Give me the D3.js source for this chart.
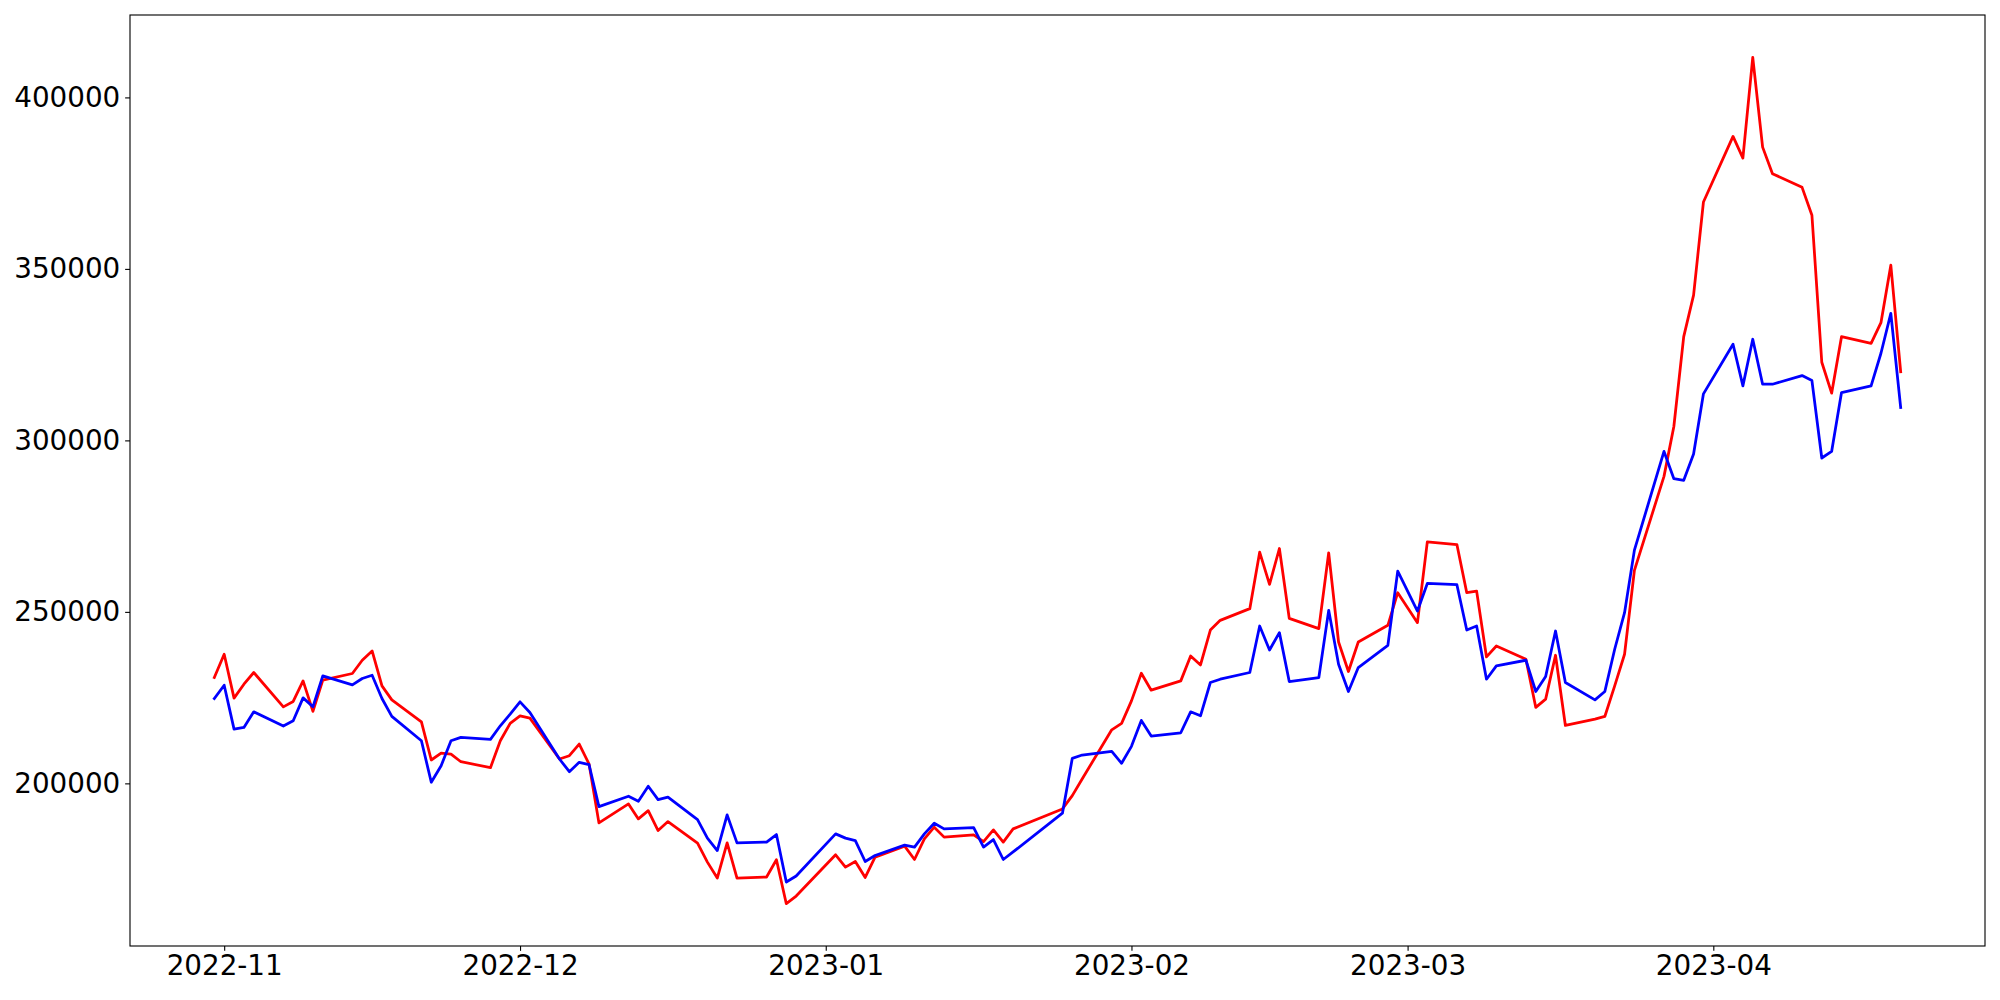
<!DOCTYPE html>
<html>
<head>
<meta charset="utf-8">
<script src="https://cdn.jsdelivr.net/npm/d3@7"></script>
<style>
  html, body { margin: 0; padding: 0; background: #fff; }
  svg { display: block; }
  text { font-family: "DejaVu Sans", sans-serif; }
</style>
</head>
<body>
<svg id="chart" width="2000" height="1000"></svg>
<script>
// ---- data ----
const dates = [
  "2022-10-31","2022-11-01","2022-11-02","2022-11-03","2022-11-04",
  "2022-11-07","2022-11-08","2022-11-09","2022-11-10","2022-11-11",
  "2022-11-14","2022-11-15","2022-11-16","2022-11-17","2022-11-18",
  "2022-11-21","2022-11-22","2022-11-23","2022-11-24","2022-11-25",
  "2022-11-28","2022-11-29","2022-11-30","2022-12-01","2022-12-02",
  "2022-12-05","2022-12-06","2022-12-07","2022-12-08","2022-12-09",
  "2022-12-12","2022-12-13","2022-12-14","2022-12-15","2022-12-16",
  "2022-12-19","2022-12-20","2022-12-21","2022-12-22","2022-12-23",
  "2022-12-26","2022-12-27","2022-12-28","2022-12-29",
  "2023-01-02","2023-01-03","2023-01-04","2023-01-05","2023-01-06",
  "2023-01-09","2023-01-10","2023-01-11","2023-01-12","2023-01-13",
  "2023-01-16","2023-01-17","2023-01-18","2023-01-19","2023-01-20",
  "2023-01-25","2023-01-26","2023-01-27",
  "2023-01-30","2023-01-31","2023-02-01","2023-02-02","2023-02-03",
  "2023-02-06","2023-02-07","2023-02-08","2023-02-09","2023-02-10",
  "2023-02-13","2023-02-14","2023-02-15","2023-02-16","2023-02-17",
  "2023-02-20","2023-02-21","2023-02-22","2023-02-23","2023-02-24",
  "2023-02-27","2023-02-28","2023-03-02","2023-03-03",
  "2023-03-06","2023-03-07","2023-03-08","2023-03-09","2023-03-10",
  "2023-03-13","2023-03-14","2023-03-15","2023-03-16","2023-03-17",
  "2023-03-20","2023-03-21","2023-03-22","2023-03-23","2023-03-24",
  "2023-03-27","2023-03-28","2023-03-29","2023-03-30","2023-03-31",
  "2023-04-03","2023-04-04","2023-04-05","2023-04-06","2023-04-07",
  "2023-04-10","2023-04-11","2023-04-12","2023-04-13","2023-04-14",
  "2023-04-17","2023-04-18","2023-04-19","2023-04-20"
];

const redValues = [
  230870,237640,224840,228910,232320,
  222310,223880,229880,220970,230080,
  232030,235900,238600,228420,224350,
  217950,206810,208840,208550,206310,
  204570,212420,217480,219690,219020,
  207100,208060,211460,205640,188480,
  194010,189640,192060,186240,188860,
  182570,177040,172390,182660,172390,
  172690,177720,164920,167150,
  179170,175590,177220,172570,178500,
  181700,177800,183830,187230,184320,
  184990,183040,186440,182860,186730,
  192550,196420,201280,
  215620,217480,224060,232120,227170,
  229880,237150,234530,244710,247530,
  250940,267400,258000,268480,248110,
  245120,267230,241220,232610,241220,
  246080,255590,246860,270430,
  269640,255590,256060,236860,240060,
  236190,222140,224550,237350,216890,
  218730,219510,228420,237640,262080,
  289510,304050,330240,342370,369510,
  388620,382310,411690,385510,377770,
  373780,365640,322790,313770,330240,
  328310,334310,351090,320050
];

const blueValues = [
  224750,228620,215820,216320,220860,
  216700,218240,224930,222310,231330,
  228710,230570,231530,224750,219520,
  212420,200320,205150,212420,213410,
  212830,216790,220190,223770,220680,
  207100,203400,206140,205440,193220,
  196240,194790,199150,195260,195960,
  189440,184030,180420,190810,182660,
  182870,185080,171230,172980,
  185280,184030,183330,177220,178970,
  182000,181410,185280,188390,186730,
  187120,181410,183620,177800,180000,
  191300,207300,208260,
  209340,205850,210790,218360,213790,
  214750,220860,219690,229410,230370,
  232320,245880,238890,243950,229700,
  230860,250440,234730,226790,233770,
  240260,261880,250240,258300,
  257920,244710,245880,230370,234240,
  235900,226790,231150,244420,229410,
  224350,226790,239100,249770,268000,
  296780,288840,288350,296030,313570,
  328020,315890,329480,316380,316380,
  318890,317440,294860,296780,313950,
  315890,325400,337040,309580
];

const seriesNames = ["red", "blue"];
const seriesColors = ["#ff0000", "#0000ff"];
const yTickValues = [200000, 250000, 300000, 350000, 400000];

// ---- layout ----
const W = 2000, H = 1000;
const plot = { left: 130, right: 1985, top: 15, bottom: 946 };
const PT = 100 / 72;
const fontPx = 20 * PT;
const tickLen = 3.5 * PT;
const tickPad = 3.5 * PT;

const svg = d3.select("#chart");

const parse = d3.utcParse("%Y-%m-%d");
const xDates = dates.map(parse);

// x domain with 5% margins (like matplotlib autoscale)
const xExt = d3.extent(xDates);
const xSpan = xExt[1] - xExt[0];
const x = d3.scaleUtc()
  .domain([new Date(+xExt[0] - 0.05 * xSpan), new Date(+xExt[1] + 0.05 * xSpan)])
  .range([plot.left, plot.right]);

const allVals = redValues.concat(blueValues);
const yMin = d3.min(allVals), yMax = d3.max(allVals);
const ySpan = yMax - yMin;
const y = d3.scaleLinear()
  .domain([yMin - 0.05 * ySpan, yMax + 0.05 * ySpan])
  .range([plot.bottom, plot.top]);

// ---- lines ----
const line = d3.line()
  .x(d => x(d.date))
  .y(d => y(d.value));

const series = [redValues, blueValues].map((vals, i) => ({
  name: seriesNames[i],
  color: seriesColors[i],
  points: vals.map((v, j) => ({ date: xDates[j], value: v }))
}));

const clipId = "plotclip";
svg.append("clipPath").attr("id", clipId)
  .append("rect")
  .attr("x", plot.left).attr("y", plot.top)
  .attr("width", plot.right - plot.left).attr("height", plot.bottom - plot.top);

svg.append("g").attr("clip-path", `url(#${clipId})`)
  .selectAll("path")
  .data(series)
  .join("path")
  .attr("d", d => line(d.points))
  .attr("fill", "none")
  .attr("stroke", d => d.color)
  .attr("stroke-width", 2 * PT)
  .attr("stroke-linejoin", "round")
  .attr("stroke-linecap", "square");

// ---- axes ----
const xAxis = d3.axisBottom(x)
  .ticks(d3.utcMonth.every(1))
  .tickFormat(d3.utcFormat("%Y-%m"))
  .tickSize(tickLen)
  .tickPadding(tickPad);

const gx = svg.append("g")
  .attr("transform", `translate(0,${plot.bottom})`)
  .call(xAxis);
gx.select(".domain").remove();
gx.selectAll(".tick line").attr("stroke", "#000").attr("stroke-width", 0.8 * PT);
gx.selectAll(".tick text")
  .attr("fill", "#000")
  .style("font-size", fontPx + "px")
  .style("font-family", "'DejaVu Sans', sans-serif");

const yAxis = d3.axisLeft(y)
  .tickValues(yTickValues)
  .tickFormat(d3.format("d"))
  .tickSize(tickLen)
  .tickPadding(tickPad);

const gy = svg.append("g")
  .attr("transform", `translate(${plot.left},0)`)
  .call(yAxis);
gy.select(".domain").remove();
gy.selectAll(".tick line").attr("stroke", "#000").attr("stroke-width", 0.8 * PT);
gy.selectAll(".tick text")
  .attr("fill", "#000")
  .style("font-size", fontPx + "px")
  .style("font-family", "'DejaVu Sans', sans-serif");

// ---- frame ----
svg.append("rect")
  .attr("x", plot.left).attr("y", plot.top)
  .attr("width", plot.right - plot.left).attr("height", plot.bottom - plot.top)
  .attr("fill", "none")
  .attr("stroke", "#000")
  .attr("stroke-width", 0.8 * PT);
</script>
</body>
</html>
